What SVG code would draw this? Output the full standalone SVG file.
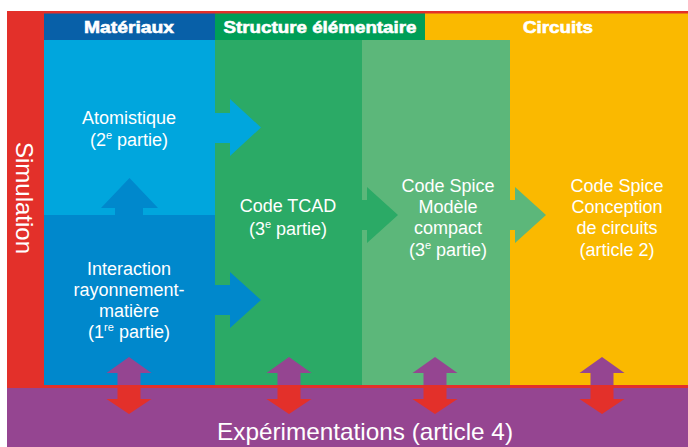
<svg xmlns="http://www.w3.org/2000/svg" width="688" height="447" viewBox="0 0 688 447">
<style>
.t{font-family:"Liberation Sans",Arial,sans-serif;font-size:18px;fill:#fff;text-anchor:middle}
.h{font-family:"Liberation Sans",Arial,sans-serif;font-size:17px;font-weight:bold;fill:#fff;stroke:#fff;stroke-width:0.6px;text-anchor:middle}
.big{font-family:"Liberation Sans",Arial,sans-serif;font-size:24px;fill:#fff;text-anchor:middle}
.sup{font-size:11px}
</style>
<defs>
<g id="dbl">
<path d="M-11.5,385 V373 H-22.5 L0,357 L22.5,373 H11.5 V385 Z" fill="#954591"/>
<path d="M-11.5,387 V399 H-22.5 L0,414 L22.5,399 H11.5 V387 Z" fill="#E3302A"/>
</g>
</defs>
<rect x="0" y="0" width="688" height="447" fill="#fff"/>
<g id="frame">
<rect x="7" y="11" width="681" height="377" fill="#E3302A"/>
</g>
<g id="simulation">
<text class="big" transform="translate(16,198) rotate(90)">Simulation</text>
</g>
<g id="header-materiaux">
<rect x="44" y="13.5" width="171" height="26.5" fill="#0860A8"/>
<text class="h" x="129" y="33" textLength="90" lengthAdjust="spacingAndGlyphs">Matériaux</text>
</g>
<g id="header-structure">
<rect x="215" y="13.5" width="210" height="26.5" fill="#009E57"/>
<text class="h" x="320" y="33" textLength="193" lengthAdjust="spacingAndGlyphs">Structure élémentaire</text>
</g>
<g id="header-circuits">
<rect x="425" y="13.5" width="263" height="26.5" fill="#FAB900"/>
<text class="h" x="558" y="33" textLength="70" lengthAdjust="spacingAndGlyphs">Circuits</text>
</g>
<g id="atomistique">
<rect x="44" y="40" width="171" height="175" fill="#00A6DD"/>
<text class="t" x="129" y="124">Atomistique</text>
<text class="t" x="129" y="146">(2<tspan class="sup" dy="-7">e</tspan><tspan dy="7"> partie)</tspan></text>
</g>
<g id="interaction">
<rect x="44" y="215" width="171" height="170" fill="#0088CC"/>
<text class="t" x="129" y="275">Interaction</text>
<text class="t" x="129" y="296">rayonnement-</text>
<text class="t" x="129" y="317">matière</text>
<text class="t" x="129" y="338">(1<tspan class="sup" dy="-7">re</tspan><tspan dy="7"> partie)</tspan></text>
</g>
<g id="tcad">
<rect x="215" y="40" width="147" height="345" fill="#2BAA66"/>
<text class="t" x="288" y="212">Code TCAD</text>
<text class="t" x="288" y="235">(3<tspan class="sup" dy="-7">e</tspan><tspan dy="7"> partie)</tspan></text>
</g>
<g id="compact">
<rect x="362" y="40" width="148" height="345" fill="#5CB77A"/>
<text class="t" x="448" y="192">Code Spice</text>
<text class="t" x="448" y="213">Modèle</text>
<text class="t" x="448" y="234">compact</text>
<text class="t" x="448" y="256">(3<tspan class="sup" dy="-7">e</tspan><tspan dy="7"> partie)</tspan></text>
</g>
<g id="circuits">
<rect x="510" y="40" width="178" height="345" fill="#FAB900"/>
<text class="t" x="617" y="192">Code Spice</text>
<text class="t" x="617" y="213">Conception</text>
<text class="t" x="617" y="234">de circuits</text>
<text class="t" x="617" y="256">(article 2)</text>
</g>
<g id="experimentations">
<rect x="7" y="388" width="681" height="59" fill="#954591"/>
<text class="big" x="365" y="440" textLength="296" lengthAdjust="spacingAndGlyphs">Expérimentations (article 4)</text>
</g>
<g id="connectors">
<path d="M215,113 H230 V99 L261,127.5 L230,156 V143 H215 Z" fill="#00A6DD"/>
<path d="M215,285 H230 V272 L261,300 L230,328 V315 H215 Z" fill="#0088CC"/>
<path d="M115,215 V208 H101 L129.5,178 L158,208 H143 V215 Z" fill="#0088CC"/>
<path d="M362,200 H367 V187 L398,215 L367,243 V230 H362 Z" fill="#2BAA66"/>
<path d="M510,200 H515 V187 L546,215 L515,243 V230 H510 Z" fill="#5CB77A"/>
<use href="#dbl" x="129"/>
<use href="#dbl" x="289"/>
<use href="#dbl" x="435"/>
<use href="#dbl" x="602"/>
</g>
</svg>
